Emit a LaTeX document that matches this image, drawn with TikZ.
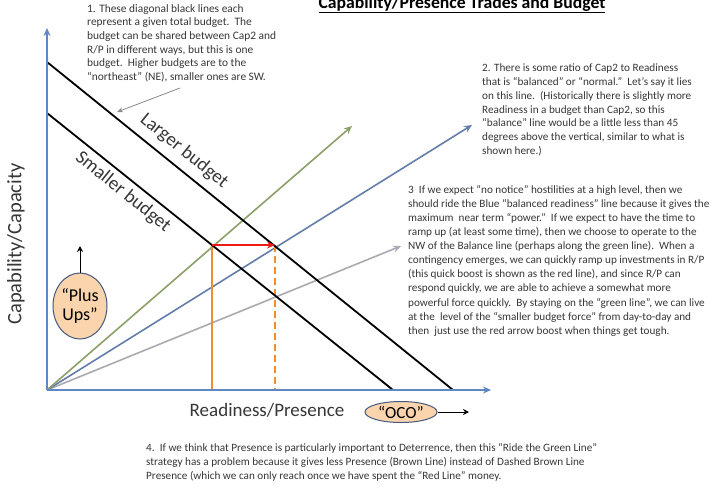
\documentclass[tikz,border=0pt]{standalone}
\usepackage{fontspec}
\setmainfont{Carlito}
\usetikzlibrary{arrows.meta,shapes.geometric}
\definecolor{axisblue}{RGB}{95,135,195}
\definecolor{greenln}{RGB}{140,160,105}
\definecolor{blueln}{RGB}{100,125,170}
\definecolor{grayln}{RGB}{170,170,178}
\definecolor{orangeln}{RGB}{240,140,50}
\definecolor{redln}{RGB}{240,25,25}
\definecolor{peach}{RGB}{250,212,172}
\definecolor{ellborder}{RGB}{70,90,125}
\definecolor{txt}{RGB}{55,55,55}
\tikzset{
  axisln/.style={draw=axisblue, line width=1.6pt, -{Stealth[length=8pt,width=7pt]}},
  budget/.style={draw=black, line width=1.8pt},
  ray/.style={line width=1.6pt, -{Stealth[length=8pt,width=7pt]}},
  note/.style={anchor=north west, inner sep=0pt, align=left, text=txt,
    font={\fontsize{11.4}{13.7}\selectfont}},
  biglabel/.style={inner sep=0pt, text=txt, font={\fontsize{19}{21}\selectfont}},
  bubble/.style={ellipse, draw=ellborder, line width=1pt, fill=peach, inner sep=0pt,
    text=black, align=center},
}
\begin{document}
\begin{tikzpicture}[x=1pt,y=-1pt]
\useasboundingbox (0,0) rectangle (721,488);
\fill[white] (0,0) rectangle (721,488);

% key points
\coordinate (O) at (47,390);
\coordinate (Ytop) at (47,28);
\coordinate (Xend) at (491,390);
\coordinate (L1) at (47,62);
\coordinate (L2) at (453,390);
\coordinate (S1) at (47,113);
\coordinate (S2) at (393,390);
\coordinate (P) at (212,245);
\coordinate (Q) at (275,245);
\coordinate (Pb) at (212,390);
\coordinate (Qb) at (275,390);
\coordinate (Gend) at (352,126);
\coordinate (Bend) at (472,125);
\coordinate (Cend) at (401,246);
\coordinate (A1) at (180,88);
\coordinate (A2) at (117,112);

% title
\node[anchor=base, inner sep=0pt, text=black, font={\fontsize{17.7}{19}\selectfont\bfseries}] (title) at (462,8) {\underline{Capability/Presence Trades and Budget}};

% rays from origin
\draw[ray, draw=grayln, fill=grayln] (O) -- (Cend);
\draw[ray, draw=blueln, fill=blueln] (O) -- (Bend);
\draw[ray, draw=greenln, fill=greenln] (O) -- (Gend);

% orange verticals
\draw[orangeln, line width=1.6pt] (P) -- (Pb);
\draw[orangeln, line width=1.6pt, dash pattern=on 7pt off 4pt] (Q) -- (Qb);

% budget lines
\draw[budget] (L1) -- (L2);
\draw[budget] (S1) -- (S2);

% axes
\draw[axisln] (O) -- (Ytop);
\draw[axisln] (O) -- (Xend);

% red boost arrow
\draw[redln, line width=2pt, -{Stealth[length=8pt,width=7pt]}] (P) -- (Q);

% annotation arrow
\draw[grayln!80!black, line width=0.8pt, -{Stealth[length=6pt,width=5pt]}] (A1) -- (A2);

% budget labels
\node[biglabel, rotate=-39] (lb) at (184,151) {Larger budget};
\node[biglabel, rotate=-39] (sb) at (123,192) {Smaller budget};

% axis labels
\node[biglabel, rotate=90, font={\fontsize{20.5}{22}\selectfont}] (ylab) at (16,244) {Capability/Capacity};
\node[biglabel] (xlab) at (267,410) {Readiness/Presence};

% bubbles
\node[bubble, minimum width=54pt, minimum height=66pt, font={\fontsize{18}{19}\selectfont}] (plus) at (80,306) {“Plus\\Ups”};
\coordinate (plusArr) at (80,246);
\draw[black, line width=1pt, -{Stealth[length=6pt,width=6pt]}] (plus.north) -- (plusArr);

\node[bubble, minimum width=72pt, minimum height=21pt, font={\fontsize{17}{18}\selectfont}] (oco) at (401,412) {“OCO”};
\coordinate (ocoArr) at (469,412);
\draw[black, line width=1pt, -{Stealth[length=6pt,width=6pt]}] (oco.east) -- (ocoArr);

% notes
\node[note] (n1) at (87,4) {1. These diagonal black lines each\\
represent a given total budget.\ \ The\\
budget can be shared between Cap2 and\\
R/P in different ways, but this is one\\
budget.\ \ Higher budgets are to the\\
“northeast” (NE), smaller ones are SW.};

\node[note, font={\fontsize{11.2}{13.7}\selectfont}] (n2) at (482,64) {2. There is some ratio of Cap2 to Readiness\\
that is “balanced” or “normal.”\ \ Let’s say it lies\\
on this line.\ \ (Historically there is slightly more\\
Readiness in a budget than Cap2, so this\\
“balance” line would be a little less than 45\\
degrees above the vertical, similar to what is\\
shown here.)};

\node[note, font={\fontsize{11.2}{14.1}\selectfont}] (n3) at (408,185) {3\ \ If we expect “no notice” hostilities at a high level, then we\\
should ride the Blue “balanced readiness” line because it gives the\\
maximum\ \ near term “power.”\ \ If we expect to have the time to\\
ramp up (at least some time), then we choose to operate to the\\
NW of the Balance line (perhaps along the green line).\ \ When a\\
contingency emerges, we can quickly ramp up investments in R/P\\
(this quick boost is shown as the red line), and since R/P can\\
respond quickly, we are able to achieve a somewhat more\\
powerful force quickly.\ \ By staying on the “green line”, we can live\\
at the\ \ level of the “smaller budget force” from day-to-day and\\
then\ \ just use the red arrow boost when things get tough.};

\node[note, font={\fontsize{11.2}{13.9}\selectfont}] (n4) at (146,443) {4.\ \ If we think that Presence is particularly important to Deterrence, then this “Ride the Green Line”\\
strategy has a problem because it gives less Presence (Brown Line) instead of Dashed Brown Line\\
Presence (which we can only reach once we have spent the “Red Line” money.};
\end{tikzpicture}
\end{document}
